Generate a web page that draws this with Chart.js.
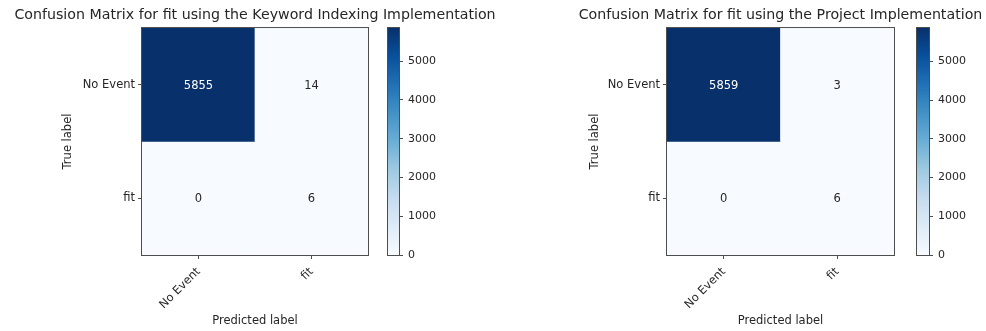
<!DOCTYPE html>
<html>
<head>
<meta charset="utf-8">
<script src="https://cdn.jsdelivr.net/npm/chart.js@4.4.1/dist/chart.umd.min.js"></script>
<style>
  html, body { margin: 0; padding: 0; background: #fff; overflow: hidden; }
  #wrap { position: relative; width: 986px; height: 331px; overflow: hidden; }
  canvas { position: absolute; top: 0; }
</style>
</head>
<body>
<div id="wrap">
  <canvas id="cmKeyword" width="510" height="331" style="left:0px"></canvas>
  <canvas id="cbKeyword" width="60" height="331" style="left:380px"></canvas>
  <canvas id="cmProject" width="441" height="331" style="left:560px"></canvas>
  <canvas id="cbProject" width="77" height="331" style="left:909px"></canvas>
</div>
<script>
// class labels (rows = true label, columns = predicted label)
const classNames = ['No Event', 'fit'];

// keyword indexing results
const keywordNoEvent = [5855, 14];
const keywordFit = [0, 6];

// project implementation results
const projectNoEvent = [5859, 3];
const projectFit = [0, 6];

const colorbarTicks = [0, 1000, 2000, 3000, 4000, 5000];

// matplotlib "Blues"
const blues = ['#f7fbff', '#deebf7', '#c6dbef', '#9ecae1', '#6baed6', '#4292c6', '#2171b5', '#08519c', '#08306b'];

const textColor = '#262626';
const frameColor = '#4d4d4d';
const smallFont = 11.5;

Chart.defaults.font.family = "'DejaVu Sans', sans-serif";
Chart.defaults.color = textColor;

function hexToRgb(h) {
    return [1, 3, 5].map(i => parseInt(h.substr(i, 2), 16));
}

function bluesAt(t) {
    t = Math.min(1, Math.max(0, t));
    var p = t * (blues.length - 1);
    var i = Math.min(Math.floor(p), blues.length - 2);
    var f = p - i;
    var a = hexToRgb(blues[i]), b = hexToRgb(blues[i + 1]);
    return 'rgb(' + a.map((v, k) => Math.round(v + (b[k] - v) * f)).join(',') + ')';
}

// box around the plot area
const frame = {
    id: 'frame',
    afterDraw(chart) {
        var a = chart.chartArea;
        var ctx = chart.ctx;
        ctx.save();
        ctx.strokeStyle = frameColor;
        ctx.lineWidth = 1;
        ctx.strokeRect(a.left - 0.5, a.top - 0.5, a.right - a.left + 1, a.bottom - a.top + 1);
        ctx.restore();
    }
};

// count written in the middle of each cell
const cellText = {
    id: 'cellText',
    afterDatasetsDraw(chart) {
        var ctx = chart.ctx;
        var maxVal = Math.max(...chart.data.datasets.flatMap(d => d.counts));
        ctx.save();
        ctx.font = smallFont + "px 'DejaVu Sans', sans-serif";
        ctx.textAlign = 'center';
        ctx.textBaseline = 'middle';
        chart.data.datasets.forEach((ds, di) => {
            chart.getDatasetMeta(di).data.forEach((bar, j) => {
                var v = ds.counts[j];
                ctx.fillStyle = v > maxVal / 2 ? '#ffffff' : textColor;
                ctx.fillText(String(v), bar.x, (bar.y + bar.base) / 2 + 1);
            });
        });
        ctx.restore();
    }
};

function drawMatrix(id, title, rows, sideWidth, yTitlePad) {
    var maxVal = Math.max(...rows.flat());
    var datasets = rows.map((row, r) => ({
        data: row.map(() => [r, r + 1]),
        counts: row,
        backgroundColor: row.map(v => bluesAt(v / maxVal)),
        borderWidth: 0,
        grouped: false,
        barPercentage: 1,
        categoryPercentage: 1
    }));
    var tickGrid = { offset: false, drawOnChartArea: false, drawTicks: true, tickLength: 4, color: frameColor };
    return new Chart(document.getElementById(id), {
        type: 'bar',
        data: { labels: classNames, datasets: datasets },
        options: {
            responsive: false,
            animation: false,
            plugins: {
                legend: { display: false },
                tooltip: { enabled: false },
                title: {
                    display: true,
                    text: title,
                    color: textColor,
                    font: { size: 14.2, weight: 'normal' },
                    padding: { top: 6.5, bottom: 4.5 }
                }
            },
            scales: {
                x: {
                    offset: true,
                    grid: tickGrid,
                    border: { display: false },
                    ticks: { minRotation: 45, maxRotation: 45, autoSkip: false, padding: 6, font: { size: smallFont } },
                    title: { display: true, text: 'Predicted label', font: { size: smallFont }, padding: { top: 0, bottom: 3.5 } },
                    afterFit(scale) { scale.height = 76; }
                },
                y: {
                    type: 'linear',
                    min: 0,
                    max: 2,
                    reverse: true,
                    afterBuildTicks(scale) { scale.ticks = classNames.map((_, i) => ({ value: i + 0.5 })); },
                    grid: tickGrid,
                    border: { display: false },
                    ticks: { padding: 3, font: { size: smallFont }, callback: (v, i) => classNames[i] },
                    title: { display: true, text: 'True label', font: { size: smallFont }, padding: { top: yTitlePad, bottom: 0 } },
                    afterFit(scale) { scale.width = sideWidth; }
                },
                // empty right-hand strip so the title stays centred over the matrix
                yRight: {
                    type: 'linear',
                    position: 'right',
                    grid: { display: false },
                    ticks: { display: false },
                    border: { display: false },
                    afterFit(scale) { scale.width = sideWidth; }
                }
            }
        },
        plugins: [cellText, frame]
    });
}

function drawColorbar(id, maxVal, leftPad, axisWidth) {
    return new Chart(document.getElementById(id), {
        type: 'bar',
        data: {
            labels: [''],
            datasets: [{
                data: [maxVal],
                borderWidth: 0,
                barPercentage: 1,
                categoryPercentage: 1,
                backgroundColor(ctx) {
                    var area = ctx.chart.chartArea;
                    if (!area) return blues[0];
                    var g = ctx.chart.ctx.createLinearGradient(0, area.bottom, 0, area.top);
                    blues.forEach((c, i) => g.addColorStop(i / (blues.length - 1), c));
                    return g;
                }
            }]
        },
        options: {
            responsive: false,
            animation: false,
            layout: { padding: { left: leftPad, right: 0, top: 28, bottom: 76 } },
            plugins: { legend: { display: false }, tooltip: { enabled: false } },
            scales: {
                x: { display: false },
                y: {
                    position: 'right',
                    min: 0,
                    max: maxVal,
                    afterBuildTicks(scale) { scale.ticks = colorbarTicks.map(v => ({ value: v })); },
                    grid: { drawOnChartArea: false, drawTicks: true, tickLength: 4, color: frameColor },
                    border: { display: false },
                    ticks: { padding: 5, font: { size: 11 }, callback: v => String(v) },
                    afterFit(scale) { scale.width = axisWidth; }
                }
            }
        },
        plugins: [frame]
    });
}

drawMatrix('cmKeyword', 'Confusion Matrix for fit using the Keyword Indexing Implementation',
    [keywordNoEvent, keywordFit], 142, 61);
drawColorbar('cbKeyword', Math.max(...keywordNoEvent, ...keywordFit), 8, 41);

drawMatrix('cmProject', 'Confusion Matrix for fit using the Project Implementation',
    [projectNoEvent, projectFit], 107, 28);
drawColorbar('cbProject', Math.max(...projectNoEvent, ...projectFit), 8, 57);
</script>
</body>
</html>
